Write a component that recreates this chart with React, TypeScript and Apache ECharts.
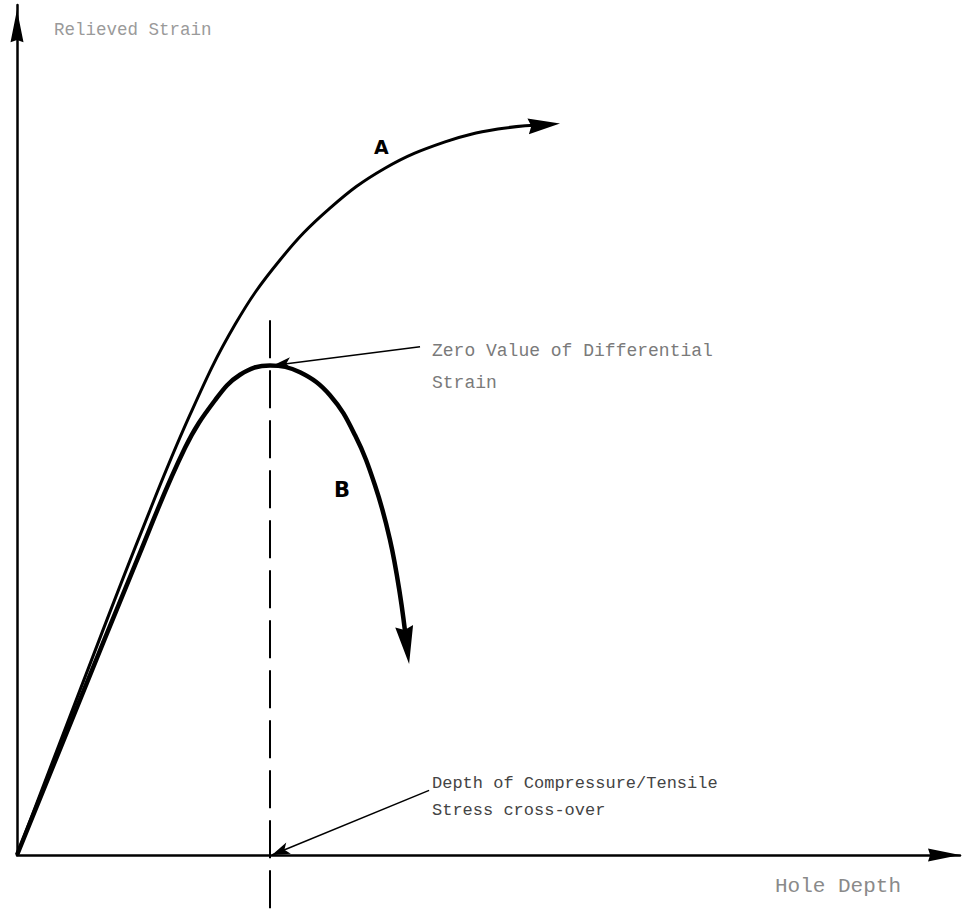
import React, { useEffect, useRef } from "react";
import * as echarts from "echarts";

// Curve A: relieved strain vs hole depth (arbitrary units 0-100)
const curveADepth = [0, 6.68, 13.04, 18.35, 23.12, 27.89, 33.19, 39.02, 45.39, 51.0, 56.0];
const curveAStrain = [0, 19.4, 37.6, 51.8, 62.4, 70.0, 76.1, 80.8, 83.9, 85.4, 85.9];

// Curve B
const curveBDepth = [0, 6.15, 12.51, 17.82, 21.0, 23.65, 26.83, 30.01, 33.19, 35.84, 37.96, 39.55, 40.62, 41.36];
const curveBStrain = [0, 16.8, 34.1, 47.9, 53.5, 56.5, 57.6, 56.8, 54.1, 49.4, 43.5, 37.1, 30.6, 24.35];

// Cross-over depth and peak of B
const crossoverDepth = 26.83;
const peakStrain = 57.6;
const dashedTop = 62.9;
const dashedBottom = -6.7;

// Leader line starts (label anchor points)
const zeroLeaderStart = [42.74, 59.8];
const depthLeaderStart = [43.7, 7.6];

const axisTitles = ["Relieved Strain", "Hole Depth"];
const curveLabels = ["A", "B"];
const zeroNote = ["Zero Value of Differential", "Strain"];
const depthNote = ["Depth of Compressure/Tensile", "Stress cross-over"];

function toPairs(xs: number[], ys: number[]) {
  return xs.map((x, i) => [x, ys[i]]);
}

function lastSegment(xs: number[], ys: number[]) {
  const n = xs.length;
  return [xs[n - 2], ys[n - 2], xs[n - 1], ys[n - 1]];
}

// arrowhead geometry (pixels) per curve: [length, width, tip beyond end]
const arrowGeom = [
  [32, 16, 15],
  [38, 18, 16],
];

const axisArrow = "path://M6,0 L12,30 L6,28 L0,30 Z";

export default function App() {
  const ref = useRef<HTMLDivElement>(null);
  useEffect(() => {
    if (!ref.current) return;
    const chart = echarts.init(ref.current, null, { renderer: "svg" });
    const mono = "'Liberation Mono', 'DejaVu Sans Mono', monospace";
    chart.setOption({
      animation: false,
      backgroundColor: "#ffffff",
      grid: { left: 17, right: 3, top: 5, bottom: 57 },
      xAxis: {
        type: "value",
        min: 0,
        max: 100,
        axisLine: {
          show: true,
          onZero: false,
          symbol: ["none", axisArrow],
          symbolSize: [15, 32],
          symbolOffset: [0, -16],
          lineStyle: { color: "#000", width: 2.5 },
        },
        axisTick: { show: false },
        axisLabel: { show: false },
        splitLine: { show: false },
      },
      yAxis: {
        type: "value",
        min: 0,
        max: 100,
        axisLine: {
          show: true,
          onZero: false,
          symbol: ["none", axisArrow],
          symbolSize: [13, 42],
          symbolOffset: [0, -21],
          lineStyle: { color: "#000", width: 2.5 },
        },
        axisTick: { show: false },
        axisLabel: { show: false },
        splitLine: { show: false },
      },
      series: [
        {
          type: "line",
          name: "A",
          smooth: 0.4,
          symbol: "none",
          clip: false,
          lineStyle: { color: "#000", width: 3 },
          data: toPairs(curveADepth, curveAStrain),
        },
        {
          type: "line",
          name: "B",
          smooth: 0.4,
          symbol: "none",
          clip: false,
          lineStyle: { color: "#000", width: 4.5 },
          data: toPairs(curveBDepth, curveBStrain),
        },
        {
          type: "custom",
          name: "arrowheads",
          clip: false,
          silent: true,
          data: [lastSegment(curveADepth, curveAStrain), lastSegment(curveBDepth, curveBStrain)],
          renderItem: (params: any, api: any) => {
            const p0 = api.coord([api.value(0), api.value(1)]);
            const p1 = api.coord([api.value(2), api.value(3)]);
            const dx = p1[0] - p0[0];
            const dy = p1[1] - p0[1];
            const len = Math.hypot(dx, dy) || 1;
            const ux = dx / len;
            const uy = dy / len;
            const nx = -uy;
            const ny = ux;
            const [L, W, ext] = arrowGeom[params.dataIndex];
            const tip = [p1[0] + ux * ext, p1[1] + uy * ext];
            const base = [tip[0] - ux * L, tip[1] - uy * L];
            const notch = [tip[0] - ux * L * 0.9, tip[1] - uy * L * 0.9];
            return {
              type: "polygon",
              shape: {
                points: [
                  tip,
                  [base[0] + (nx * W) / 2, base[1] + (ny * W) / 2],
                  notch,
                  [base[0] - (nx * W) / 2, base[1] - (ny * W) / 2],
                ],
              },
              style: { fill: "#000" },
            };
          },
        },
        {
          type: "line",
          name: "crossover",
          symbol: "none",
          clip: false,
          lineStyle: { color: "#000", width: 2, type: [38, 12] },
          data: [
            [crossoverDepth, dashedTop],
            [crossoverDepth, dashedBottom],
          ],
          markLine: {
            silent: true,
            symbol: ["none", "arrow"],
            symbolSize: [9, 18],
            label: { show: false },
            lineStyle: { color: "#000", width: 1.5, type: "solid" },
            data: [
              [
                { coord: zeroLeaderStart },
                { coord: [crossoverDepth + 0.3, peakStrain] },
              ],
              [
                { coord: depthLeaderStart },
                { coord: [crossoverDepth + 0.2, 0] },
              ],
            ],
          },
        },
      ],
      graphic: [
        { type: "text", left: 54, top: 21, style: { text: axisTitles[0], font: `17.5px ${mono}`, fill: "#9a9a9a" } },
        { type: "text", left: 775, top: 876, style: { text: axisTitles[1], font: `21px ${mono}`, fill: "#8a8a8a" } },
        { type: "text", left: 374, top: 137, style: { text: curveLabels[0], font: `bold 19px 'DejaVu Sans', sans-serif`, fill: "#000" } },
        { type: "text", left: 334, top: 479, style: { text: curveLabels[1], font: `bold 21px 'DejaVu Sans', sans-serif`, fill: "#000" } },
        { type: "text", left: 432, top: 342, style: { text: zeroNote[0], font: `18px ${mono}`, fill: "#7a7a7a" } },
        { type: "text", left: 432, top: 374, style: { text: zeroNote[1], font: `18px ${mono}`, fill: "#7a7a7a" } },
        { type: "text", left: 432, top: 775, style: { text: depthNote[0], font: `17px ${mono}`, fill: "#444" } },
        { type: "text", left: 432, top: 802, style: { text: depthNote[1], font: `17px ${mono}`, fill: "#444" } },
      ],
    });
    return () => chart.dispose();
  }, []);
  return (
    <div
      ref={ref}
      style={{ position: "fixed", left: 0, top: 0, width: 963, height: 912, background: "#fff" }}
    />
  );
}
